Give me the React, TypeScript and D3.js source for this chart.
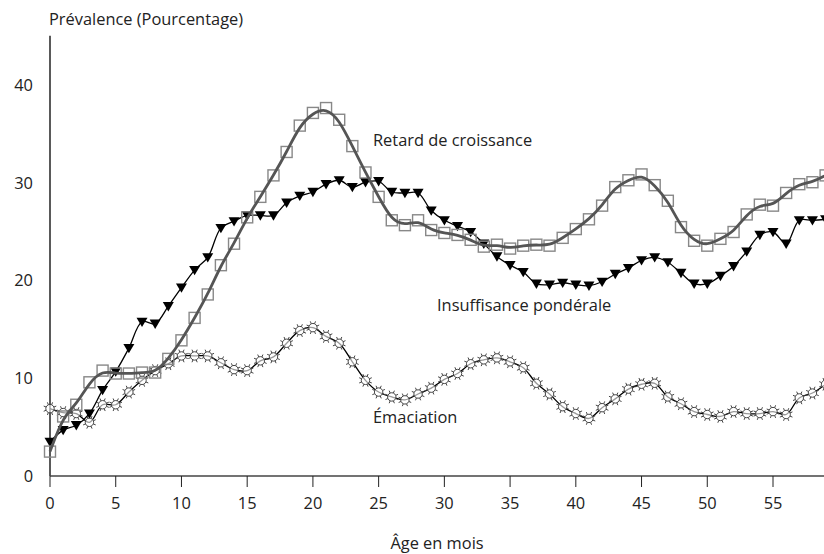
import React from "react";
import * as d3 from "d3";

const months = d3.range(0, 60);
const retard = [2.5, 6.1, 7.3, 9.6, 10.8, 10.5, 10.5, 10.6, 10.6, 12.0, 13.9, 16.2, 18.6, 21.6, 23.8, 26.5, 28.6, 30.8, 33.2, 35.9, 37.2, 37.7, 36.5, 33.8, 31.1, 28.6, 26.2, 25.7, 26.2, 25.2, 24.9, 24.7, 24.2, 23.5, 23.7, 23.3, 23.6, 23.7, 23.6, 24.4, 25.3, 26.3, 27.7, 29.6, 30.3, 30.9, 29.8, 28.2, 25.5, 24.1, 23.6, 24.3, 25.0, 26.8, 27.8, 27.7, 29.0, 29.9, 30.1, 30.8];
const insuffisance = [3.5, 4.7, 5.2, 6.4, 8.8, 10.7, 13.1, 15.8, 15.6, 17.4, 19.3, 21.1, 22.4, 25.4, 26.1, 26.7, 26.7, 26.7, 28.0, 28.7, 29.1, 29.9, 30.3, 29.6, 30.1, 30.2, 29.1, 29.0, 29.0, 27.2, 26.2, 25.6, 25.0, 23.8, 22.5, 21.6, 20.9, 19.7, 19.6, 19.8, 19.6, 19.5, 19.9, 20.7, 21.3, 22.1, 22.4, 21.9, 20.8, 19.7, 19.7, 20.5, 21.5, 23.0, 24.7, 25.0, 23.8, 26.2, 26.2, 26.3];
const emaciation = [6.9, 6.5, 6.4, 5.5, 7.3, 7.3, 8.6, 9.8, 10.8, 11.5, 12.3, 12.3, 12.3, 11.6, 10.9, 10.8, 11.8, 12.2, 13.6, 14.9, 15.2, 14.3, 13.6, 11.7, 9.8, 8.6, 8.1, 7.8, 8.4, 9.0, 9.9, 10.5, 11.5, 11.9, 12.1, 11.7, 11.1, 9.5, 8.4, 7.1, 6.4, 5.9, 7.0, 7.9, 8.9, 9.4, 9.5, 8.1, 7.4, 6.6, 6.3, 6.1, 6.6, 6.4, 6.4, 6.6, 6.3, 8.0, 8.5, 9.4];
const xTicks = [0, 5, 10, 15, 20, 25, 30, 35, 40, 45, 50, 55];
const yTicks = [0, 10, 20, 30, 40];
const seriesLabels = ["Retard de croissance", "Insuffisance pondérale", "Émaciation"];
const yTitle = "Prévalence (Pourcentage)";
const xTitle = "Âge en mois";

const FONT = "'Open Sans', sans-serif";

export default function App() {
  const W = 824, H = 554;
  const x = d3.scaleLinear().domain([0, 55]).range([50, 773]);
  const y = d3.scaleLinear().domain([0, 40]).range([476, 85.6]);
  const yTop = y(45.1);

  const lineCR = d3.line<number>().x((_, i) => x(months[i])).y((d) => y(d)).curve(d3.curveCatmullRom.alpha(0.5));
  const lineB = d3.line<number>().x((_, i) => x(months[i])).y((d) => y(d)).curve(d3.curveBasis);

  const tri = (cx: number, cy: number) => {
    const s = 5.5;
    return `M${cx - s},${cy - s * 0.75}L${cx + s},${cy - s * 0.75}L${cx},${cy + s * 0.95}Z`;
  };
  const star = (cx: number, cy: number) => {
    let p = "";
    for (let k = 0; k < 8; k++) {
      const a = (k * Math.PI) / 4 + Math.PI / 8;
      p += `M${cx + 4.2 * Math.cos(a)},${cy + 4.2 * Math.sin(a)}L${cx + 6.8 * Math.cos(a)},${cy + 6.8 * Math.sin(a)}`;
    }
    return p;
  };

  const fs = 16.4;

  return (
    <svg width={W} height={H} style={{ position: "absolute", left: 0, top: 0, background: "#fff" }} fontFamily={FONT}>
      <text x={49} y={25} fontSize={fs} fill="#222">{yTitle}</text>
      {/* axes */}
      <line x1={50} x2={50} y1={yTop} y2={y(0)} stroke="#000" strokeWidth={1.3} />
      <line x1={50} x2={W} y1={y(0)} y2={y(0)} stroke="#444" strokeWidth={1.5} />
      {xTicks.map((t) => (
        <g key={t}>
          <line x1={x(t)} x2={x(t)} y1={y(0)} y2={y(0) + 11} stroke="#222" strokeWidth={1} />
          <text x={x(t)} y={509} textAnchor="middle" fontSize={fs} fill="#222">{t}</text>
        </g>
      ))}
      {yTicks.map((t) => (
        <text key={t} x={33} y={y(t) + 5.5} textAnchor="end" fontSize={fs} fill="#222">{t}</text>
      ))}
      <text x={437} y={549} textAnchor="middle" fontSize={fs} fill="#222">{xTitle}</text>

      {/* Émaciation */}
      <path d={lineCR(emaciation) || ""} fill="none" stroke="#000" strokeWidth={1.3} />
      {emaciation.map((v, i) => (
        <g key={"e" + i}>
          <path d={star(x(months[i]), y(v))} stroke="#444" strokeWidth={1} />
          <circle cx={x(months[i])} cy={y(v)} r={4.2} fill="#fff" fillOpacity={0.6} stroke="#444" strokeWidth={1} />
        </g>
      ))}

      {/* Insuffisance pondérale */}
      <path d={lineCR(insuffisance) || ""} fill="none" stroke="#000" strokeWidth={1.3} />
      {insuffisance.map((v, i) => (
        <path key={"i" + i} d={tri(x(months[i]), y(v))} fill="#000" />
      ))}

      {/* Retard de croissance */}
      {retard.map((v, i) => (
        <rect key={"r" + i} x={x(months[i]) - 5.5} y={y(v) - 5.5} width={11} height={11} fill="none" stroke="#888" strokeWidth={1.4} />
      ))}
      <path d={lineB(retard) || ""} fill="none" stroke="#555" strokeWidth={2.8} />

      <text x={373} y={146} fontSize={fs} fill="#222">{seriesLabels[0]}</text>
      <text x={437} y={311} fontSize={fs} fill="#222">{seriesLabels[1]}</text>
      <text x={373} y={423} fontSize={fs} fill="#222">{seriesLabels[2]}</text>
    </svg>
  );
}
